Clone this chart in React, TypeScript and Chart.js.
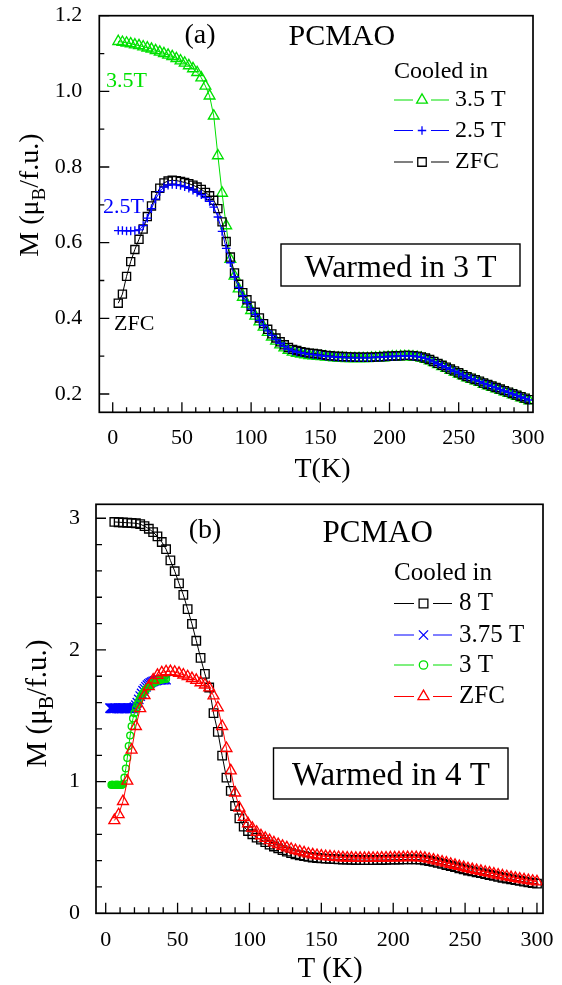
import { useEffect, useRef } from "react";
import Chart from "chart.js/auto";

const FONT = "'Liberation Serif', 'Times New Roman', serif";
const GREEN = "#00e000";
const BLUE = "#0000ff";
const RED = "#ff0000";
const BLACK = "#000000";

// ---- panel (a): warmed in 3 T ----
const tempA = [
  4, 7, 10, 13, 16, 19, 22, 25, 28, 31, 34, 37, 40, 43, 46, 49, 52, 55, 58, 61,
  64, 67, 70, 73, 76, 79, 82, 85, 88, 91, 94, 97, 100, 103, 106, 109, 112, 115, 118, 121,
  124, 127, 130, 133, 136, 139, 142, 145, 148, 151, 154, 157, 160, 163, 166, 169, 172, 175, 178, 181,
  184, 187, 190, 193, 196, 199, 202, 205, 208, 211, 214, 217, 220, 223, 226, 229, 232, 235, 238, 241,
  244, 247, 250, 253, 256, 259, 262, 265, 268, 271, 274, 277, 280, 283, 286, 289, 292, 295, 298, 301,
];
const mCooled35 = [
  1.132, 1.13, 1.128, 1.126, 1.123, 1.121, 1.118, 1.115, 1.112, 1.108,
  1.104, 1.1, 1.096, 1.092, 1.087, 1.081, 1.075, 1.068, 1.06, 1.05,
  1.036, 1.014, 0.988, 0.935, 0.83, 0.731, 0.645, 0.556, 0.512, 0.478,
  0.456, 0.438, 0.421, 0.406, 0.391, 0.377, 0.363, 0.351, 0.34, 0.33,
  0.322, 0.316, 0.311, 0.308, 0.306, 0.304, 0.302, 0.301, 0.3, 0.299,
  0.298, 0.297, 0.296, 0.295, 0.295, 0.294, 0.294, 0.294, 0.294, 0.294,
  0.294, 0.295, 0.295, 0.296, 0.296, 0.297, 0.298, 0.298, 0.299, 0.299,
  0.299, 0.298, 0.297, 0.295, 0.292, 0.288, 0.283, 0.278, 0.273, 0.268,
  0.263, 0.258, 0.253, 0.248, 0.243, 0.239, 0.235, 0.231, 0.226, 0.222,
  0.218, 0.214, 0.21, 0.206, 0.202, 0.198, 0.194, 0.19, 0.186, 0.182,
];
const mCooled25 = [
  0.632, 0.632, 0.631, 0.631, 0.632, 0.634, 0.645, 0.665, 0.69, 0.715,
  0.735, 0.747, 0.752, 0.754, 0.753, 0.751, 0.748, 0.744, 0.739, 0.733,
  0.727, 0.719, 0.709, 0.694, 0.668, 0.63, 0.585, 0.547, 0.51, 0.482,
  0.46, 0.442, 0.425, 0.41, 0.395, 0.381, 0.367, 0.355, 0.344, 0.334,
  0.326, 0.319, 0.314, 0.311, 0.309, 0.307, 0.305, 0.304, 0.303, 0.301,
  0.3, 0.299, 0.298, 0.297, 0.297, 0.296, 0.296, 0.296, 0.296, 0.296,
  0.296, 0.296, 0.297, 0.297, 0.298, 0.299, 0.299, 0.3, 0.3, 0.301,
  0.301, 0.3, 0.299, 0.297, 0.294, 0.29, 0.285, 0.28, 0.275, 0.27,
  0.265, 0.26, 0.255, 0.25, 0.245, 0.241, 0.237, 0.233, 0.228, 0.224,
  0.22, 0.216, 0.212, 0.208, 0.204, 0.2, 0.196, 0.192, 0.188, 0.184,
];
const mZfcA = [
  0.44, 0.464, 0.511, 0.55, 0.582, 0.609, 0.636, 0.669, 0.697, 0.724,
  0.744, 0.758, 0.763, 0.765, 0.764, 0.762, 0.759, 0.756, 0.752, 0.747,
  0.741, 0.733, 0.724, 0.712, 0.69, 0.655, 0.603, 0.562, 0.52, 0.49,
  0.468, 0.449, 0.432, 0.416, 0.401, 0.386, 0.371, 0.359, 0.348, 0.338,
  0.33, 0.323, 0.318, 0.315, 0.312, 0.31, 0.308, 0.307, 0.306, 0.304,
  0.302, 0.301, 0.3, 0.299, 0.299, 0.298, 0.298, 0.297, 0.297, 0.297,
  0.297, 0.297, 0.298, 0.298, 0.299, 0.3, 0.3, 0.301, 0.301, 0.302,
  0.302, 0.301, 0.3, 0.298, 0.295, 0.291, 0.286, 0.281, 0.276, 0.271,
  0.266, 0.261, 0.256, 0.251, 0.246, 0.242, 0.238, 0.234, 0.229, 0.225,
  0.221, 0.217, 0.213, 0.209, 0.205, 0.201, 0.197, 0.193, 0.189, 0.185,
];

// ---- panel (b): warmed in 4 T ----
const tempB = [
  6, 9, 12, 15, 18, 21, 24, 27, 30, 33, 36, 39, 42, 45, 48, 51, 54, 57, 60, 63,
  66, 69, 72, 75, 78, 81, 84, 87, 90, 93, 96, 99, 102, 105, 108, 111, 114, 117, 120, 123,
  126, 129, 132, 135, 138, 141, 144, 147, 150, 153, 156, 159, 162, 165, 168, 171, 174, 177, 180, 183,
  186, 189, 192, 195, 198, 201, 204, 207, 210, 213, 216, 219, 222, 225, 228, 231, 234, 237, 240, 243,
  246, 249, 252, 255, 258, 261, 264, 267, 270, 273, 276, 279, 282, 285, 288, 291, 294, 297, 300,
];
const mCooled8 = [
  2.972, 2.97, 2.968, 2.966, 2.964, 2.962, 2.955, 2.94, 2.92, 2.895,
  2.862, 2.82, 2.765, 2.68, 2.598, 2.505, 2.418, 2.31, 2.198, 2.07,
  1.94, 1.818, 1.715, 1.52, 1.378, 1.197, 1.03, 0.93, 0.815, 0.721,
  0.658, 0.625, 0.6, 0.575, 0.56, 0.54, 0.522, 0.507, 0.493, 0.48,
  0.468, 0.457, 0.448, 0.44, 0.434, 0.429, 0.424, 0.42, 0.417, 0.415,
  0.413, 0.411, 0.41, 0.408, 0.407, 0.406, 0.405, 0.404, 0.404, 0.404,
  0.404, 0.405, 0.405, 0.406, 0.407, 0.407, 0.408, 0.409, 0.409, 0.41,
  0.409, 0.407, 0.403, 0.397, 0.39, 0.383, 0.375, 0.367, 0.359, 0.351,
  0.342, 0.333, 0.325, 0.318, 0.311, 0.305, 0.298, 0.291, 0.284, 0.277,
  0.27, 0.264, 0.258, 0.252, 0.246, 0.24, 0.235, 0.23, 0.225,
];
const mZfcB = [
  0.705, 0.75, 0.85, 1.005, 1.24, 1.42, 1.555, 1.655, 1.722, 1.772,
  1.808, 1.828, 1.836, 1.837, 1.832, 1.823, 1.811, 1.798, 1.784, 1.77,
  1.752, 1.735, 1.713, 1.652, 1.562, 1.42, 1.253, 1.083, 0.915, 0.8,
  0.73, 0.68, 0.647, 0.617, 0.59, 0.571, 0.553, 0.536, 0.523, 0.51,
  0.498, 0.488, 0.478, 0.469, 0.46, 0.452, 0.445, 0.44, 0.436, 0.432,
  0.43, 0.427, 0.425, 0.423, 0.421, 0.42, 0.419, 0.418, 0.418, 0.418,
  0.419, 0.419, 0.42, 0.421, 0.422, 0.422, 0.423, 0.424, 0.424, 0.425,
  0.424, 0.422, 0.418, 0.412, 0.405, 0.398, 0.39, 0.382, 0.374, 0.366,
  0.357, 0.348, 0.34, 0.333, 0.326, 0.32, 0.313, 0.306, 0.299, 0.292,
  0.285, 0.279, 0.273, 0.267, 0.261, 0.255, 0.25, 0.245, 0.24,
];
const tempB375 = [
  3, 3.5, 4, 4.5, 5, 5.5, 6, 6.5, 7, 7.5, 8, 8.5, 9, 9.5, 10, 10.5, 11, 11.5, 12, 12.5,
  13, 13.5, 14, 14.5, 15, 15.5, 16, 16.5, 17, 17.5, 18, 18.5, 19, 19.5, 20, 21, 22,
  23, 24, 25, 26, 27, 28, 29, 30, 31, 32, 33, 34, 35, 36, 37, 38, 39, 40, 41, 42,
];
const mCooled375 = [
  1.558, 1.557, 1.557, 1.556, 1.556, 1.557, 1.557, 1.558, 1.558, 1.557,
  1.556, 1.556, 1.557, 1.557, 1.557, 1.558, 1.556, 1.557, 1.558, 1.557,
  1.557, 1.556, 1.556, 1.557, 1.557, 1.558, 1.558, 1.557, 1.557, 1.556,
  1.556, 1.557, 1.558, 1.56, 1.565, 1.58, 1.6,
  1.625, 1.65, 1.67, 1.69, 1.705, 1.72, 1.732, 1.742, 1.75, 1.756,
  1.761, 1.765, 1.768, 1.77, 1.772, 1.773, 1.773, 1.774, 1.774, 1.774,
];
const tempB3 = [
  4, 4.5, 5, 5.5, 6, 6.5, 7, 7.5, 8, 8.5, 9, 9.5, 10, 10.5, 11, 11.5, 12, 13, 14, 15,
  16, 17, 18, 19, 20, 21, 22, 23, 24, 25, 26, 27, 28, 29, 30, 31, 32, 33, 34, 35,
  36, 37, 38, 39, 40, 41, 42,
];
const mCooled3 = [
  0.975, 0.976, 0.976, 0.974, 0.974, 0.975, 0.975, 0.976, 0.976, 0.975,
  0.975, 0.974, 0.974, 0.975, 0.976, 0.977, 0.98, 1.03, 1.1, 1.18,
  1.27, 1.35, 1.42, 1.48, 1.52, 1.555, 1.585, 1.61, 1.635, 1.655,
  1.67, 1.685, 1.7, 1.712, 1.722, 1.732, 1.74, 1.748, 1.755, 1.76,
  1.765, 1.77, 1.773, 1.776, 1.778, 1.779, 1.78,
];

const xTickLabels = [0, 50, 100, 150, 200, 250, 300];
const yTickLabelsA = [0.2, 0.4, 0.6, 0.8, 1.0, 1.2];
const yTickLabelsB = [0, 1, 2, 3];

const isLabel = (v: number, list: number[]) => list.some((l) => Math.abs(l - v) < 1e-6);

function series(label: string, temps: number[], values: number[], color: string, pointStyle: string, radius: number, order: number) {
  return {
    label,
    data: temps.map((t, i) => ({ x: t, y: values[i] })),
    borderColor: color,
    borderWidth: 1,
    pointStyle,
    pointRadius: radius,
    pointHoverRadius: radius,
    pointBorderColor: color,
    pointBackgroundColor: "rgba(0,0,0,0)",
    pointBorderWidth: 1.35,
    tension: 0,
    fill: false,
    order,
  };
}

function drawMarker(ctx: CanvasRenderingContext2D, style: string, x: number, y: number, r: number) {
  ctx.beginPath();
  if (style === "rect") {
    const s = r * Math.SQRT1_2;
    ctx.rect(x - s, y - s, 2 * s, 2 * s);
  } else if (style === "triangle") {
    for (let k = 0; k < 3; k++) {
      const a = (k * 2 * Math.PI) / 3;
      ctx.lineTo(x + Math.sin(a) * r, y - Math.cos(a) * r);
    }
    ctx.closePath();
  } else if (style === "circle") {
    ctx.arc(x, y, r, 0, 2 * Math.PI);
  } else if (style === "cross") {
    ctx.moveTo(x, y - r);
    ctx.lineTo(x, y + r);
    ctx.moveTo(x - r, y);
    ctx.lineTo(x + r, y);
  } else {
    const d = r * Math.SQRT1_2;
    ctx.moveTo(x - d, y - d);
    ctx.lineTo(x + d, y + d);
    ctx.moveTo(x + d, y - d);
    ctx.lineTo(x - d, y + d);
  }
  ctx.stroke();
}

function decorations(deco: any) {
  return {
    id: "decorations",
    afterDraw(chart: any) {
      const { ctx, chartArea: a, scales } = chart;
      ctx.save();
      ctx.strokeStyle = BLACK;
      ctx.fillStyle = BLACK;

      // inward tick marks
      ctx.lineWidth = 1.3;
      ctx.beginPath();
      for (const t of scales.x.ticks) {
        const px = scales.x.getPixelForValue(t.value);
        const len = isLabel(t.value, deco.xLabels) ? deco.xTick[0] : deco.xTick[1];
        ctx.moveTo(px, a.bottom);
        ctx.lineTo(px, a.bottom - len);
      }
      for (const t of scales.y.ticks) {
        const py = scales.y.getPixelForValue(t.value);
        const len = isLabel(t.value, deco.yLabels) ? deco.yTick[0] : deco.yTick[1];
        ctx.moveTo(a.left, py);
        ctx.lineTo(a.left + len, py);
      }
      ctx.stroke();

      // frame
      ctx.lineWidth = 1.7;
      ctx.strokeRect(a.left, a.top, a.right - a.left, a.bottom - a.top);

      // free texts
      ctx.textBaseline = "alphabetic";
      for (const t of deco.texts) {
        ctx.font = `${t.size}px ${FONT}`;
        ctx.fillStyle = t.color || BLACK;
        ctx.textAlign = t.align || "left";
        ctx.fillText(t.text, t.x, t.y);
      }

      // legend
      const lg = deco.legend;
      ctx.font = `${lg.size}px ${FONT}`;
      ctx.textAlign = "left";
      ctx.textBaseline = "middle";
      lg.items.forEach((it: any, i: number) => {
        const y = lg.ys[i];
        ctx.strokeStyle = it.color;
        ctx.lineWidth = 1.1;
        ctx.beginPath();
        ctx.moveTo(lg.line1[0], y);
        ctx.lineTo(lg.line1[1], y);
        ctx.moveTo(lg.line2[0], y);
        ctx.lineTo(lg.line2[1], y);
        ctx.stroke();
        ctx.lineWidth = 1.3;
        drawMarker(ctx, it.style, lg.markerX, y, it.r);
        ctx.fillStyle = BLACK;
        ctx.fillText(it.label, lg.textX, y);
      });

      // "Warmed in" box
      const bx = deco.box;
      ctx.strokeStyle = BLACK;
      ctx.lineWidth = 1.4;
      ctx.strokeRect(bx.x, bx.y, bx.w, bx.h);
      ctx.font = `${bx.size}px ${FONT}`;
      ctx.textAlign = "center";
      ctx.textBaseline = "alphabetic";
      ctx.fillStyle = BLACK;
      ctx.fillText(bx.text, bx.textX, bx.textY);

      // y-axis title with subscript
      const yt = deco.yTitle;
      const main = `${yt.size}px ${FONT}`;
      const sub = `${Math.round(yt.size * 0.68)}px ${FONT}`;
      const parts = [
        { t: "M (\u03bc", f: main, dy: 0 },
        { t: "B", f: sub, dy: yt.size * 0.24 },
        { t: "/f.u.)", f: main, dy: 0 },
      ];
      let total = 0;
      for (const p of parts) {
        ctx.font = p.f;
        total += ctx.measureText(p.t).width;
      }
      ctx.translate(yt.x, yt.y);
      ctx.rotate(-Math.PI / 2);
      ctx.textAlign = "left";
      let cx = -total / 2;
      for (const p of parts) {
        ctx.font = p.f;
        ctx.fillText(p.t, cx, p.dy);
        cx += ctx.measureText(p.t).width;
      }
      ctx.restore();
    },
  };
}

function makeChart(canvas: HTMLCanvasElement, cfg: any) {
  return new Chart(canvas, {
    type: "line",
    data: { datasets: cfg.datasets },
    options: {
      animation: false,
      responsive: false,
      events: [],
      layout: { padding: { left: 0, top: cfg.area.top, right: cfg.area.right, bottom: 0 } },
      plugins: { legend: { display: false }, tooltip: { enabled: false } },
      scales: {
        x: {
          type: "linear",
          min: cfg.xMin,
          max: cfg.xMax,
          grid: { display: false },
          border: { display: false },
          ticks: {
            stepSize: 10,
            includeBounds: false,
            autoSkip: false,
            maxRotation: 0,
            padding: cfg.xPad,
            color: BLACK,
            font: { family: FONT, size: 22 },
            callback: (v: any) => (isLabel(Number(v), xTickLabels) ? String(Math.round(Number(v))) : ""),
          },
          afterFit: (s: any) => {
            s.height = cfg.area.xHeight;
            s.paddingLeft = 0;
            s.paddingRight = 0;
          },
        },
        y: {
          type: "linear",
          min: cfg.yMin,
          max: cfg.yMax,
          grid: { display: false },
          border: { display: false },
          ticks: {
            stepSize: cfg.yStep,
            includeBounds: false,
            autoSkip: false,
            padding: cfg.yPad,
            color: BLACK,
            font: { family: FONT, size: 22 },
            callback: (v: any) => (isLabel(Number(v), cfg.yLabels) ? Number(v).toFixed(cfg.yDigits) : ""),
          },
          afterFit: (s: any) => {
            s.width = cfg.area.left;
            s.paddingTop = 0;
            s.paddingBottom = 0;
          },
        },
      },
    },
    plugins: [decorations(cfg.deco)],
  } as any);
}

export default function App() {
  const refA = useRef<HTMLCanvasElement>(null);
  const refB = useRef<HTMLCanvasElement>(null);

  useEffect(() => {
    const chartA = makeChart(refA.current!, {
      datasets: [
        series("2.5 T", tempA, mCooled25, BLUE, "cross", 4.3, 0),
        series("ZFC", tempA, mZfcA, BLACK, "rect", 5.7, 1),
        series("3.5 T", tempA, mCooled35, GREEN, "triangle", 6.2, 2),
      ],
      area: { left: 99.3, top: 15.7, right: 29, xHeight: 77.7 },
      xMin: -9.7,
      xMax: 303.7,
      yMin: 0.1516,
      yMax: 1.2,
      yStep: 0.1,
      yLabels: yTickLabelsA,
      yDigits: 1,
      xPad: 5,
      yPad: 9,
      deco: {
        xLabels: xTickLabels,
        yLabels: yTickLabelsA,
        xTick: [10, 5],
        yTick: [10, 5],
        texts: [
          { text: "(a)", x: 200, y: 43, size: 28, align: "center" },
          { text: "PCMAO", x: 288.5, y: 45, size: 30 },
          { text: "Cooled in", x: 394, y: 78, size: 24 },
          { text: "3.5T", x: 106, y: 87, size: 22, color: GREEN },
          { text: "2.5T", x: 103, y: 213, size: 22, color: BLUE },
          { text: "ZFC", x: 114, y: 330, size: 22 },
          { text: "T(K)", x: 322.5, y: 477, size: 28, align: "center" },
        ],
        legend: {
          size: 24,
          ys: [100, 130.5, 162],
          line1: [394, 413],
          line2: [431, 449],
          markerX: 422,
          textX: 455,
          items: [
            { label: "3.5 T", color: GREEN, style: "triangle", r: 6.2 },
            { label: "2.5 T", color: BLUE, style: "cross", r: 4.2 },
            { label: "ZFC", color: BLACK, style: "rect", r: 6 },
          ],
        },
        box: { x: 281, y: 244, w: 239, h: 42, text: "Warmed in 3 T", size: 32, textX: 400.5, textY: 277 },
        yTitle: { x: 38, y: 195, size: 28 },
      },
    });

    const chartB = makeChart(refB.current!, {
      datasets: [
        series("ZFC", tempB, mZfcB, RED, "triangle", 6.3, 0),
        series("3 T", tempB3, mCooled3, GREEN, "circle", 3.4, 1),
        series("3.75 T", tempB375, mCooled375, BLUE, "crossRot", 6.6, 2),
        series("8 T", tempB, mCooled8, BLACK, "rect", 6, 3),
      ],
      area: { left: 96, top: 14.3, right: 19, xHeight: 71.7 },
      xMin: -6.75,
      xMax: 304.2,
      yMin: 0,
      yMax: 3.106,
      yStep: 0.2,
      yLabels: yTickLabelsB,
      yDigits: 0,
      xPad: 6,
      yPad: 8,
      deco: {
        xLabels: xTickLabels,
        yLabels: yTickLabelsB,
        xTick: [10.5, 6],
        yTick: [10, 6],
        texts: [
          { text: "(b)", x: 205, y: 48, size: 28, align: "center" },
          { text: "PCMAO", x: 322.6, y: 52, size: 31 },
          { text: "Cooled in", x: 394, y: 90, size: 25 },
          { text: "T (K)", x: 330, y: 487, size: 29, align: "center" },
        ],
        legend: {
          size: 25,
          ys: [113.5, 145, 175, 206.5],
          line1: [394, 414],
          line2: [433, 452],
          markerX: 423.5,
          textX: 459,
          items: [
            { label: "8 T", color: BLACK, style: "rect", r: 6.2 },
            { label: "3.75 T", color: BLUE, style: "crossRot", r: 6.5 },
            { label: "3 T", color: GREEN, style: "circle", r: 4.2 },
            { label: "ZFC", color: RED, style: "triangle", r: 6.4 },
          ],
        },
        box: { x: 273.5, y: 258, w: 234.5, h: 51, text: "Warmed in 4 T", size: 33, textX: 391, textY: 295 },
        yTitle: { x: 46, y: 213.5, size: 29 },
      },
    });

    return () => {
      chartA.destroy();
      chartB.destroy();
    };
  }, []);

  return (
    <div style={{ position: "absolute", left: 0, top: 0, width: 562, height: 985, background: "#fff" }}>
      <canvas ref={refA} width={562} height={490} style={{ position: "absolute", left: 0, top: 0 }} />
      <canvas ref={refB} width={562} height={495} style={{ position: "absolute", left: 0, top: 490 }} />
    </div>
  );
}
